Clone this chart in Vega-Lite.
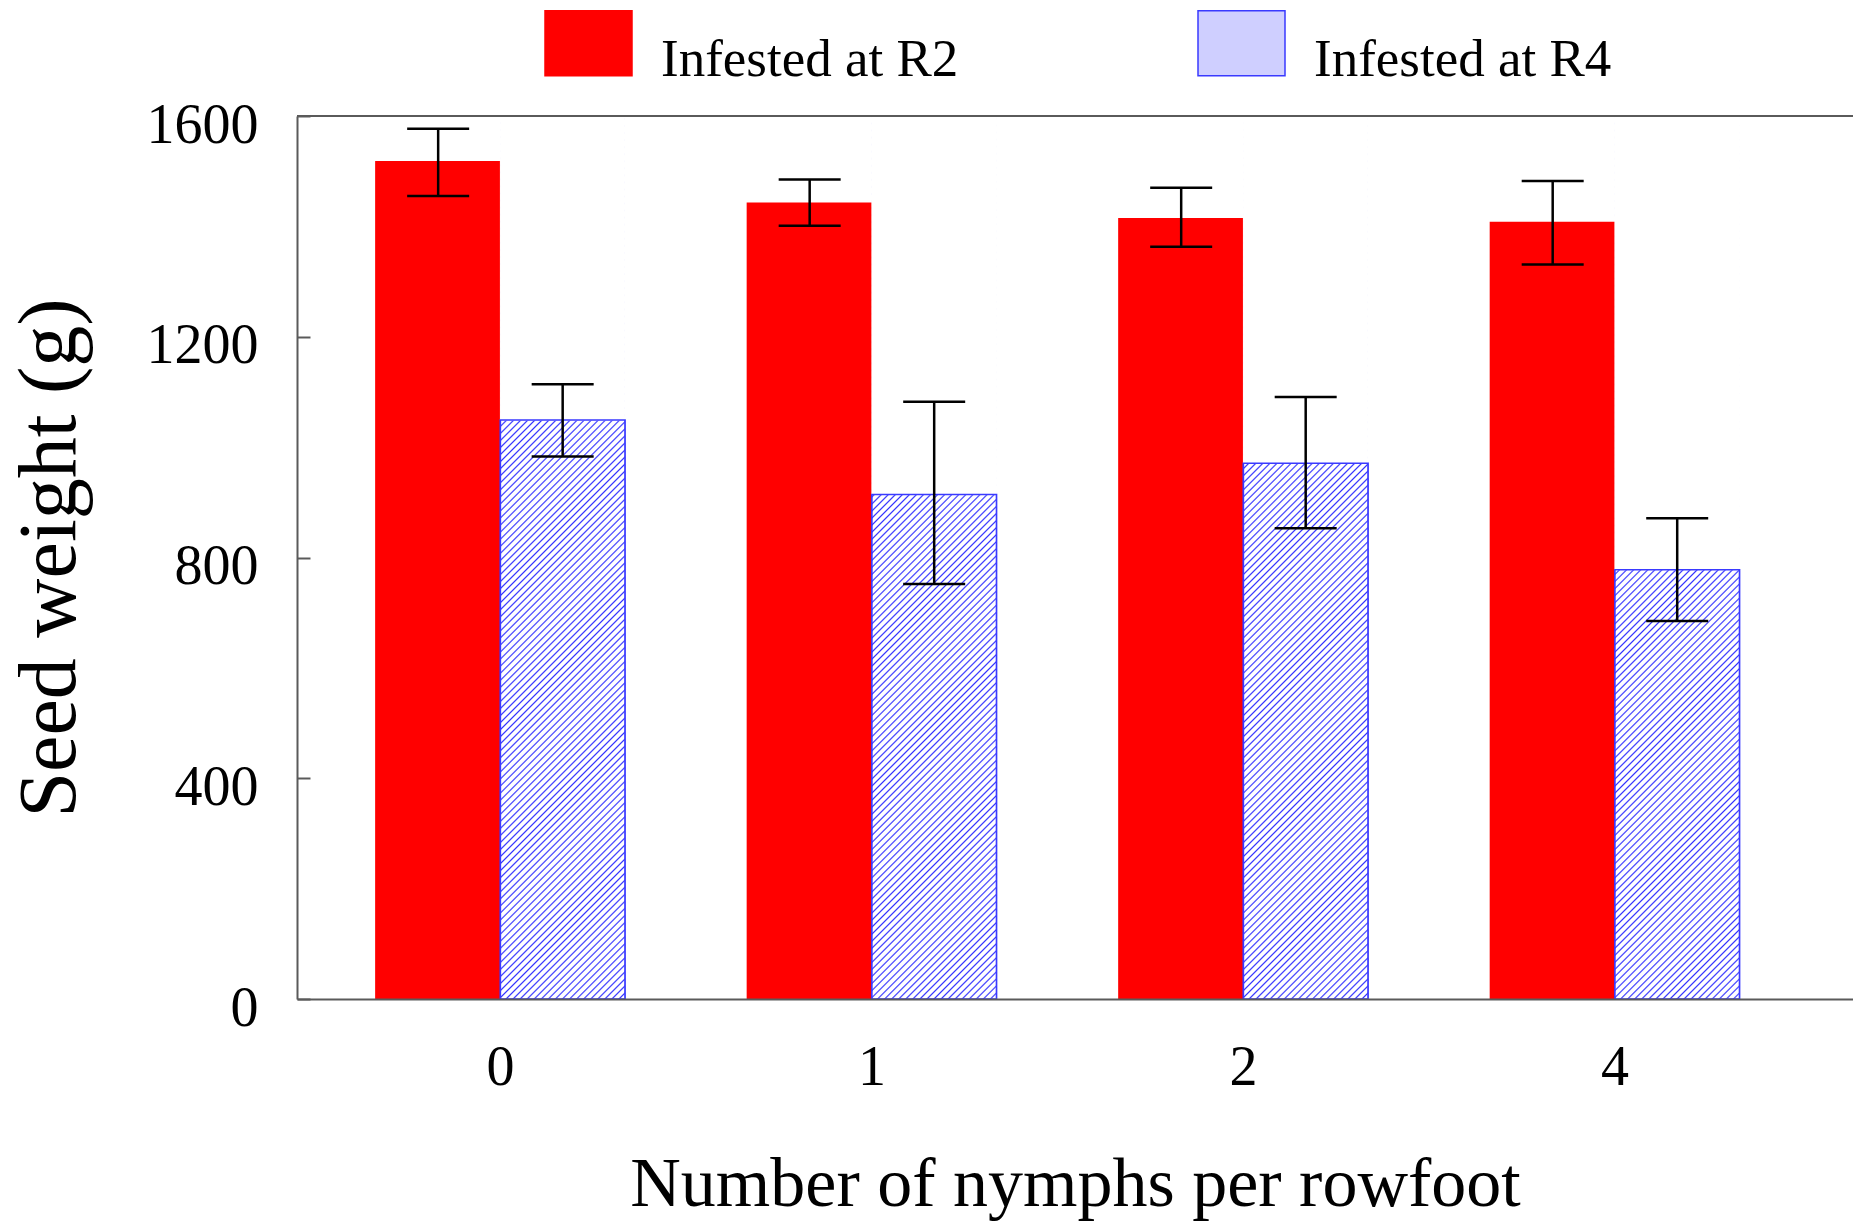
{
  "$schema": "https://vega.github.io/schema/vega-lite/v6.json",
  "autosize": {"type": "none"},
  "padding": {"left": 297, "top": 116, "right": 0, "bottom": 223},
  "width": 1556,
  "height": 883,
  "background": "white",
  "config": {
    "view": {"stroke": null},
    "font": "Liberation Serif"
  },
  "data": {
    "values": [
      {"nymphs": "0", "stage": "Infested at R2", "weight": 1517, "lo": 1455, "hi": 1577},
      {"nymphs": "0", "stage": "Infested at R4", "weight": 1049, "lo": 983, "hi": 1114},
      {"nymphs": "1", "stage": "Infested at R2", "weight": 1442, "lo": 1401, "hi": 1485},
      {"nymphs": "1", "stage": "Infested at R4", "weight": 914, "lo": 752, "hi": 1082},
      {"nymphs": "2", "stage": "Infested at R2", "weight": 1414, "lo": 1363, "hi": 1470},
      {"nymphs": "2", "stage": "Infested at R4", "weight": 971, "lo": 853, "hi": 1091},
      {"nymphs": "4", "stage": "Infested at R2", "weight": 1407, "lo": 1331, "hi": 1482},
      {"nymphs": "4", "stage": "Infested at R4", "weight": 778, "lo": 685, "hi": 871}
    ]
  },
  "encoding": {
    "x": {
      "field": "nymphs",
      "type": "nominal",
      "sort": ["0", "1", "2", "4"],
      "scale": {"paddingInner": 0.3297, "paddingOuter": 0.259, "align": 0.41, "round": false},
      "axis": {
        "title": "Number of nymphs per rowfoot",
        "zindex": 1,
        "labelAngle": 0,
        "labelFont": "Liberation Serif",
        "labelFontSize": 56,
        "labelColor": "black",
        "labelPadding": 41,
        "ticks": false,
        "domainColor": "#5a5a5a",
        "domainWidth": 2,
        "titleFont": "Liberation Serif",
        "titleFontSize": 70,
        "titleFontWeight": "normal",
        "titleColor": "black",
        "titleBaseline": "alphabetic",
        "titleY": 206
      }
    },
    "xOffset": {
      "field": "stage",
      "type": "nominal",
      "scale": {"paddingInner": 0, "paddingOuter": 0}
    }
  },
  "layer": [
    {
      "mark": {"type": "bar", "strokeWidth": 1.5},
      "encoding": {
        "y": {
          "field": "weight",
          "type": "quantitative",
          "scale": {"domain": [0, 1600], "nice": false},
          "axis": {
            "title": "Seed weight (g)",
            "zindex": 1,
            "values": [0, 400, 800, 1200, 1600],
            "format": "d",
            "grid": false,
            "labelFont": "Liberation Serif",
            "labelFontSize": 56,
            "labelColor": "black",
            "labelPadding": 52,
            "labelOffset": 9,
            "labelFlush": false,
            "tickSize": -13,
            "tickColor": "#5a5a5a",
            "tickWidth": 2,
            "domainColor": "#5a5a5a",
            "domainWidth": 2,
            "titleFont": "Liberation Serif",
            "titleFontSize": 82,
            "titleFontWeight": "normal",
            "titleColor": "black",
            "titleBaseline": "alphabetic",
            "titleX": -223,
            "titleY": 441.5
          }
        },
        "fill": {
          "field": "stage",
          "type": "nominal",
          "scale": {"domain": ["Infested at R2", "Infested at R4"], "range": ["#ff0000", "#cfcfff"]},
          "legend": {
            "title": null,
            "orient": "none",
            "direction": "horizontal",
            "columns": 2,
            "legendX": 247,
            "legendY": -85,
            "padding": 0,
            "symbolType": "M-1,-1.494H1V0H-1Z",
            "symbolSize": 7569,
            "symbolStrokeWidth": 1.5,
            "symbolOpacity": 1,
            "labelFont": "Liberation Serif",
            "labelFontSize": 53,
            "labelColor": "black",
            "labelBaseline": "alphabetic",
            "labelOffset": 28,
            "labelLimit": 1000,
            "columnPadding": 236
          }
        },
        "stroke": {
          "field": "stage",
          "type": "nominal",
          "scale": {"domain": ["Infested at R2", "Infested at R4"], "range": ["#ff0000", "#3a3aff"]},
          "legend": null
        }
      }
    },
    {
      "transform": [{"filter": "datum.stage === 'Infested at R4'"}],
      "mark": {
        "type": "bar",
        "strokeWidth": 0,
        "fill": {
          "gradient": "linear",
          "x1": 0, "y1": 0, "x2": 0.1577, "y2": 1.1188,
          "stops": [
            {"offset":0,"color":"#33f"},{"offset":0.0016,"color":"#fff"},
            {"offset":0.0054,"color":"#fff"},{"offset":0.007,"color":"#33f"},{"offset":0.0086,"color":"#fff"},
            {"offset":0.0124,"color":"#fff"},{"offset":0.014,"color":"#33f"},{"offset":0.0156,"color":"#fff"},
            {"offset":0.0194,"color":"#fff"},{"offset":0.021,"color":"#33f"},{"offset":0.0226,"color":"#fff"},
            {"offset":0.0264,"color":"#fff"},{"offset":0.028,"color":"#33f"},{"offset":0.0296,"color":"#fff"},
            {"offset":0.0334,"color":"#fff"},{"offset":0.035,"color":"#33f"},{"offset":0.0366,"color":"#fff"},
            {"offset":0.0404,"color":"#fff"},{"offset":0.042,"color":"#33f"},{"offset":0.0436,"color":"#fff"},
            {"offset":0.0474,"color":"#fff"},{"offset":0.049,"color":"#33f"},{"offset":0.0506,"color":"#fff"},
            {"offset":0.0544,"color":"#fff"},{"offset":0.056,"color":"#33f"},{"offset":0.0576,"color":"#fff"},
            {"offset":0.0614,"color":"#fff"},{"offset":0.063,"color":"#33f"},{"offset":0.0646,"color":"#fff"},
            {"offset":0.0684,"color":"#fff"},{"offset":0.07,"color":"#33f"},{"offset":0.0716,"color":"#fff"},
            {"offset":0.0754,"color":"#fff"},{"offset":0.077,"color":"#33f"},{"offset":0.0786,"color":"#fff"},
            {"offset":0.0824,"color":"#fff"},{"offset":0.084,"color":"#33f"},{"offset":0.0856,"color":"#fff"},
            {"offset":0.0894,"color":"#fff"},{"offset":0.091,"color":"#33f"},{"offset":0.0926,"color":"#fff"},
            {"offset":0.0964,"color":"#fff"},{"offset":0.098,"color":"#33f"},{"offset":0.0996,"color":"#fff"},
            {"offset":0.1034,"color":"#fff"},{"offset":0.105,"color":"#33f"},{"offset":0.1066,"color":"#fff"},
            {"offset":0.1104,"color":"#fff"},{"offset":0.112,"color":"#33f"},{"offset":0.1136,"color":"#fff"},
            {"offset":0.1174,"color":"#fff"},{"offset":0.119,"color":"#33f"},{"offset":0.1206,"color":"#fff"},
            {"offset":0.1244,"color":"#fff"},{"offset":0.126,"color":"#33f"},{"offset":0.1276,"color":"#fff"},
            {"offset":0.1314,"color":"#fff"},{"offset":0.133,"color":"#33f"},{"offset":0.1346,"color":"#fff"},
            {"offset":0.1384,"color":"#fff"},{"offset":0.14,"color":"#33f"},{"offset":0.1416,"color":"#fff"},
            {"offset":0.1454,"color":"#fff"},{"offset":0.147,"color":"#33f"},{"offset":0.1486,"color":"#fff"},
            {"offset":0.1524,"color":"#fff"},{"offset":0.154,"color":"#33f"},{"offset":0.1556,"color":"#fff"},
            {"offset":0.1594,"color":"#fff"},{"offset":0.161,"color":"#33f"},{"offset":0.1626,"color":"#fff"},
            {"offset":0.1664,"color":"#fff"},{"offset":0.168,"color":"#33f"},{"offset":0.1696,"color":"#fff"},
            {"offset":0.1734,"color":"#fff"},{"offset":0.175,"color":"#33f"},{"offset":0.1766,"color":"#fff"},
            {"offset":0.1804,"color":"#fff"},{"offset":0.182,"color":"#33f"},{"offset":0.1836,"color":"#fff"},
            {"offset":0.1874,"color":"#fff"},{"offset":0.189,"color":"#33f"},{"offset":0.1906,"color":"#fff"},
            {"offset":0.1944,"color":"#fff"},{"offset":0.196,"color":"#33f"},{"offset":0.1976,"color":"#fff"},
            {"offset":0.2014,"color":"#fff"},{"offset":0.203,"color":"#33f"},{"offset":0.2046,"color":"#fff"},
            {"offset":0.2084,"color":"#fff"},{"offset":0.21,"color":"#33f"},{"offset":0.2116,"color":"#fff"},
            {"offset":0.2154,"color":"#fff"},{"offset":0.217,"color":"#33f"},{"offset":0.2186,"color":"#fff"},
            {"offset":0.2224,"color":"#fff"},{"offset":0.224,"color":"#33f"},{"offset":0.2256,"color":"#fff"},
            {"offset":0.2294,"color":"#fff"},{"offset":0.231,"color":"#33f"},{"offset":0.2326,"color":"#fff"},
            {"offset":0.2364,"color":"#fff"},{"offset":0.238,"color":"#33f"},{"offset":0.2396,"color":"#fff"},
            {"offset":0.2434,"color":"#fff"},{"offset":0.245,"color":"#33f"},{"offset":0.2466,"color":"#fff"},
            {"offset":0.2504,"color":"#fff"},{"offset":0.252,"color":"#33f"},{"offset":0.2536,"color":"#fff"},
            {"offset":0.2574,"color":"#fff"},{"offset":0.259,"color":"#33f"},{"offset":0.2606,"color":"#fff"},
            {"offset":0.2644,"color":"#fff"},{"offset":0.266,"color":"#33f"},{"offset":0.2676,"color":"#fff"},
            {"offset":0.2714,"color":"#fff"},{"offset":0.273,"color":"#33f"},{"offset":0.2746,"color":"#fff"},
            {"offset":0.2784,"color":"#fff"},{"offset":0.28,"color":"#33f"},{"offset":0.2816,"color":"#fff"},
            {"offset":0.2854,"color":"#fff"},{"offset":0.287,"color":"#33f"},{"offset":0.2886,"color":"#fff"},
            {"offset":0.2924,"color":"#fff"},{"offset":0.294,"color":"#33f"},{"offset":0.2956,"color":"#fff"},
            {"offset":0.2994,"color":"#fff"},{"offset":0.301,"color":"#33f"},{"offset":0.3026,"color":"#fff"},
            {"offset":0.3064,"color":"#fff"},{"offset":0.308,"color":"#33f"},{"offset":0.3096,"color":"#fff"},
            {"offset":0.3134,"color":"#fff"},{"offset":0.315,"color":"#33f"},{"offset":0.3166,"color":"#fff"},
            {"offset":0.3204,"color":"#fff"},{"offset":0.322,"color":"#33f"},{"offset":0.3236,"color":"#fff"},
            {"offset":0.3274,"color":"#fff"},{"offset":0.329,"color":"#33f"},{"offset":0.3306,"color":"#fff"},
            {"offset":0.3344,"color":"#fff"},{"offset":0.336,"color":"#33f"},{"offset":0.3376,"color":"#fff"},
            {"offset":0.3414,"color":"#fff"},{"offset":0.343,"color":"#33f"},{"offset":0.3446,"color":"#fff"},
            {"offset":0.3484,"color":"#fff"},{"offset":0.35,"color":"#33f"},{"offset":0.3516,"color":"#fff"},
            {"offset":0.3554,"color":"#fff"},{"offset":0.357,"color":"#33f"},{"offset":0.3586,"color":"#fff"},
            {"offset":0.3624,"color":"#fff"},{"offset":0.364,"color":"#33f"},{"offset":0.3656,"color":"#fff"},
            {"offset":0.3694,"color":"#fff"},{"offset":0.371,"color":"#33f"},{"offset":0.3726,"color":"#fff"},
            {"offset":0.3764,"color":"#fff"},{"offset":0.378,"color":"#33f"},{"offset":0.3796,"color":"#fff"},
            {"offset":0.3834,"color":"#fff"},{"offset":0.385,"color":"#33f"},{"offset":0.3866,"color":"#fff"},
            {"offset":0.3904,"color":"#fff"},{"offset":0.392,"color":"#33f"},{"offset":0.3936,"color":"#fff"},
            {"offset":0.3974,"color":"#fff"},{"offset":0.399,"color":"#33f"},{"offset":0.4006,"color":"#fff"},
            {"offset":0.4044,"color":"#fff"},{"offset":0.406,"color":"#33f"},{"offset":0.4076,"color":"#fff"},
            {"offset":0.4114,"color":"#fff"},{"offset":0.413,"color":"#33f"},{"offset":0.4146,"color":"#fff"},
            {"offset":0.4184,"color":"#fff"},{"offset":0.42,"color":"#33f"},{"offset":0.4216,"color":"#fff"},
            {"offset":0.4254,"color":"#fff"},{"offset":0.427,"color":"#33f"},{"offset":0.4286,"color":"#fff"},
            {"offset":0.4324,"color":"#fff"},{"offset":0.434,"color":"#33f"},{"offset":0.4356,"color":"#fff"},
            {"offset":0.4394,"color":"#fff"},{"offset":0.441,"color":"#33f"},{"offset":0.4426,"color":"#fff"},
            {"offset":0.4464,"color":"#fff"},{"offset":0.448,"color":"#33f"},{"offset":0.4496,"color":"#fff"},
            {"offset":0.4534,"color":"#fff"},{"offset":0.455,"color":"#33f"},{"offset":0.4566,"color":"#fff"},
            {"offset":0.4604,"color":"#fff"},{"offset":0.462,"color":"#33f"},{"offset":0.4636,"color":"#fff"},
            {"offset":0.4674,"color":"#fff"},{"offset":0.469,"color":"#33f"},{"offset":0.4706,"color":"#fff"},
            {"offset":0.4744,"color":"#fff"},{"offset":0.476,"color":"#33f"},{"offset":0.4776,"color":"#fff"},
            {"offset":0.4814,"color":"#fff"},{"offset":0.483,"color":"#33f"},{"offset":0.4846,"color":"#fff"},
            {"offset":0.4884,"color":"#fff"},{"offset":0.49,"color":"#33f"},{"offset":0.4916,"color":"#fff"},
            {"offset":0.4954,"color":"#fff"},{"offset":0.497,"color":"#33f"},{"offset":0.4986,"color":"#fff"},
            {"offset":0.5024,"color":"#fff"},{"offset":0.504,"color":"#33f"},{"offset":0.5056,"color":"#fff"},
            {"offset":0.5094,"color":"#fff"},{"offset":0.511,"color":"#33f"},{"offset":0.5126,"color":"#fff"},
            {"offset":0.5164,"color":"#fff"},{"offset":0.518,"color":"#33f"},{"offset":0.5196,"color":"#fff"},
            {"offset":0.5234,"color":"#fff"},{"offset":0.525,"color":"#33f"},{"offset":0.5266,"color":"#fff"},
            {"offset":0.5304,"color":"#fff"},{"offset":0.532,"color":"#33f"},{"offset":0.5336,"color":"#fff"},
            {"offset":0.5374,"color":"#fff"},{"offset":0.539,"color":"#33f"},{"offset":0.5406,"color":"#fff"},
            {"offset":0.5444,"color":"#fff"},{"offset":0.546,"color":"#33f"},{"offset":0.5476,"color":"#fff"},
            {"offset":0.5514,"color":"#fff"},{"offset":0.553,"color":"#33f"},{"offset":0.5546,"color":"#fff"},
            {"offset":0.5584,"color":"#fff"},{"offset":0.56,"color":"#33f"},{"offset":0.5616,"color":"#fff"},
            {"offset":0.5654,"color":"#fff"},{"offset":0.567,"color":"#33f"},{"offset":0.5686,"color":"#fff"},
            {"offset":0.5724,"color":"#fff"},{"offset":0.574,"color":"#33f"},{"offset":0.5756,"color":"#fff"},
            {"offset":0.5794,"color":"#fff"},{"offset":0.581,"color":"#33f"},{"offset":0.5826,"color":"#fff"},
            {"offset":0.5864,"color":"#fff"},{"offset":0.588,"color":"#33f"},{"offset":0.5896,"color":"#fff"},
            {"offset":0.5934,"color":"#fff"},{"offset":0.595,"color":"#33f"},{"offset":0.5966,"color":"#fff"},
            {"offset":0.6004,"color":"#fff"},{"offset":0.602,"color":"#33f"},{"offset":0.6036,"color":"#fff"},
            {"offset":0.6074,"color":"#fff"},{"offset":0.609,"color":"#33f"},{"offset":0.6106,"color":"#fff"},
            {"offset":0.6144,"color":"#fff"},{"offset":0.616,"color":"#33f"},{"offset":0.6176,"color":"#fff"},
            {"offset":0.6214,"color":"#fff"},{"offset":0.623,"color":"#33f"},{"offset":0.6246,"color":"#fff"},
            {"offset":0.6284,"color":"#fff"},{"offset":0.63,"color":"#33f"},{"offset":0.6316,"color":"#fff"},
            {"offset":0.6354,"color":"#fff"},{"offset":0.637,"color":"#33f"},{"offset":0.6386,"color":"#fff"},
            {"offset":0.6424,"color":"#fff"},{"offset":0.644,"color":"#33f"},{"offset":0.6456,"color":"#fff"},
            {"offset":0.6494,"color":"#fff"},{"offset":0.651,"color":"#33f"},{"offset":0.6526,"color":"#fff"},
            {"offset":0.6564,"color":"#fff"},{"offset":0.658,"color":"#33f"},{"offset":0.6596,"color":"#fff"},
            {"offset":0.6634,"color":"#fff"},{"offset":0.665,"color":"#33f"},{"offset":0.6666,"color":"#fff"},
            {"offset":0.6704,"color":"#fff"},{"offset":0.672,"color":"#33f"},{"offset":0.6736,"color":"#fff"},
            {"offset":0.6774,"color":"#fff"},{"offset":0.679,"color":"#33f"},{"offset":0.6806,"color":"#fff"},
            {"offset":0.6844,"color":"#fff"},{"offset":0.686,"color":"#33f"},{"offset":0.6876,"color":"#fff"},
            {"offset":0.6914,"color":"#fff"},{"offset":0.693,"color":"#33f"},{"offset":0.6946,"color":"#fff"},
            {"offset":0.6984,"color":"#fff"},{"offset":0.7,"color":"#33f"},{"offset":0.7016,"color":"#fff"},
            {"offset":0.7054,"color":"#fff"},{"offset":0.707,"color":"#33f"},{"offset":0.7086,"color":"#fff"},
            {"offset":0.7124,"color":"#fff"},{"offset":0.714,"color":"#33f"},{"offset":0.7156,"color":"#fff"},
            {"offset":0.7194,"color":"#fff"},{"offset":0.721,"color":"#33f"},{"offset":0.7226,"color":"#fff"},
            {"offset":0.7264,"color":"#fff"},{"offset":0.728,"color":"#33f"},{"offset":0.7296,"color":"#fff"},
            {"offset":0.7334,"color":"#fff"},{"offset":0.735,"color":"#33f"},{"offset":0.7366,"color":"#fff"},
            {"offset":0.7404,"color":"#fff"},{"offset":0.742,"color":"#33f"},{"offset":0.7436,"color":"#fff"},
            {"offset":0.7474,"color":"#fff"},{"offset":0.749,"color":"#33f"},{"offset":0.7506,"color":"#fff"},
            {"offset":0.7544,"color":"#fff"},{"offset":0.756,"color":"#33f"},{"offset":0.7576,"color":"#fff"},
            {"offset":0.7614,"color":"#fff"},{"offset":0.763,"color":"#33f"},{"offset":0.7646,"color":"#fff"},
            {"offset":0.7684,"color":"#fff"},{"offset":0.77,"color":"#33f"},{"offset":0.7716,"color":"#fff"},
            {"offset":0.7754,"color":"#fff"},{"offset":0.777,"color":"#33f"},{"offset":0.7786,"color":"#fff"},
            {"offset":0.7824,"color":"#fff"},{"offset":0.784,"color":"#33f"},{"offset":0.7856,"color":"#fff"},
            {"offset":0.7894,"color":"#fff"},{"offset":0.791,"color":"#33f"},{"offset":0.7926,"color":"#fff"},
            {"offset":0.7964,"color":"#fff"},{"offset":0.798,"color":"#33f"},{"offset":0.7996,"color":"#fff"},
            {"offset":0.8034,"color":"#fff"},{"offset":0.805,"color":"#33f"},{"offset":0.8066,"color":"#fff"},
            {"offset":0.8104,"color":"#fff"},{"offset":0.812,"color":"#33f"},{"offset":0.8136,"color":"#fff"},
            {"offset":0.8174,"color":"#fff"},{"offset":0.819,"color":"#33f"},{"offset":0.8206,"color":"#fff"},
            {"offset":0.8244,"color":"#fff"},{"offset":0.826,"color":"#33f"},{"offset":0.8276,"color":"#fff"},
            {"offset":0.8314,"color":"#fff"},{"offset":0.833,"color":"#33f"},{"offset":0.8346,"color":"#fff"},
            {"offset":0.8384,"color":"#fff"},{"offset":0.84,"color":"#33f"},{"offset":0.8416,"color":"#fff"},
            {"offset":0.8454,"color":"#fff"},{"offset":0.847,"color":"#33f"},{"offset":0.8486,"color":"#fff"},
            {"offset":0.8524,"color":"#fff"},{"offset":0.854,"color":"#33f"},{"offset":0.8556,"color":"#fff"},
            {"offset":0.8594,"color":"#fff"},{"offset":0.861,"color":"#33f"},{"offset":0.8626,"color":"#fff"},
            {"offset":0.8664,"color":"#fff"},{"offset":0.868,"color":"#33f"},{"offset":0.8696,"color":"#fff"},
            {"offset":0.8734,"color":"#fff"},{"offset":0.875,"color":"#33f"},{"offset":0.8766,"color":"#fff"},
            {"offset":0.8804,"color":"#fff"},{"offset":0.882,"color":"#33f"},{"offset":0.8836,"color":"#fff"},
            {"offset":0.8874,"color":"#fff"},{"offset":0.889,"color":"#33f"},{"offset":0.8906,"color":"#fff"},
            {"offset":0.8944,"color":"#fff"},{"offset":0.896,"color":"#33f"},{"offset":0.8976,"color":"#fff"},
            {"offset":0.9014,"color":"#fff"},{"offset":0.903,"color":"#33f"},{"offset":0.9046,"color":"#fff"},
            {"offset":0.9084,"color":"#fff"},{"offset":0.91,"color":"#33f"},{"offset":0.9116,"color":"#fff"},
            {"offset":0.9154,"color":"#fff"},{"offset":0.917,"color":"#33f"},{"offset":0.9186,"color":"#fff"},
            {"offset":0.9224,"color":"#fff"},{"offset":0.924,"color":"#33f"},{"offset":0.9256,"color":"#fff"},
            {"offset":0.9294,"color":"#fff"},{"offset":0.931,"color":"#33f"},{"offset":0.9326,"color":"#fff"},
            {"offset":0.9364,"color":"#fff"},{"offset":0.938,"color":"#33f"},{"offset":0.9396,"color":"#fff"},
            {"offset":0.9434,"color":"#fff"},{"offset":0.945,"color":"#33f"},{"offset":0.9466,"color":"#fff"},
            {"offset":0.9504,"color":"#fff"},{"offset":0.952,"color":"#33f"},{"offset":0.9536,"color":"#fff"},
            {"offset":0.9574,"color":"#fff"},{"offset":0.959,"color":"#33f"},{"offset":0.9606,"color":"#fff"},
            {"offset":0.9644,"color":"#fff"},{"offset":0.966,"color":"#33f"},{"offset":0.9676,"color":"#fff"},
            {"offset":0.9714,"color":"#fff"},{"offset":0.973,"color":"#33f"},{"offset":0.9746,"color":"#fff"},
            {"offset":0.9784,"color":"#fff"},{"offset":0.98,"color":"#33f"},{"offset":0.9816,"color":"#fff"},
            {"offset":0.9854,"color":"#fff"},{"offset":0.987,"color":"#33f"},{"offset":0.9886,"color":"#fff"},
            {"offset":0.9924,"color":"#fff"},{"offset":0.994,"color":"#33f"},{"offset":0.9956,"color":"#fff"}
          ]
        }
      },
      "encoding": {
        "y": {"datum": 0, "type": "quantitative"},
        "y2": {"datum": 1600}
      }
    },
    {
      "transform": [{"filter": "datum.stage === 'Infested at R4'"}],
      "mark": {"type": "bar", "fill": "white", "stroke": "white", "strokeWidth": 1},
      "encoding": {
        "y": {"field": "weight", "type": "quantitative"},
        "y2": {"datum": 1600}
      }
    },
    {
      "transform": [{"filter": "datum.stage === 'Infested at R4'"}],
      "mark": {"type": "bar", "fill": null, "fillOpacity": 0, "stroke": "#3a3aff", "strokeWidth": 1.5},
      "encoding": {
        "y": {"field": "weight", "type": "quantitative"}
      }
    },
    {
      "mark": {"type": "rule", "color": "black", "strokeWidth": 2.5},
      "encoding": {
        "y": {"field": "lo", "type": "quantitative"},
        "y2": {"field": "hi"}
      }
    },
    {
      "mark": {"type": "tick", "color": "black", "size": 62, "thickness": 2.5, "opacity": 1},
      "encoding": {
        "y": {"field": "hi", "type": "quantitative"}
      }
    },
    {
      "mark": {"type": "tick", "color": "black", "size": 62, "thickness": 2.5, "opacity": 1},
      "encoding": {
        "y": {"field": "lo", "type": "quantitative"}
      }
    },
    {
      "data": {"values": [{"top": 1600}]},
      "mark": {"type": "rule", "color": "#5a5a5a", "strokeWidth": 2},
      "encoding": {
        "y": {"field": "top", "type": "quantitative"},
        "x": null,
        "xOffset": null
      }
    }
  ]
}
